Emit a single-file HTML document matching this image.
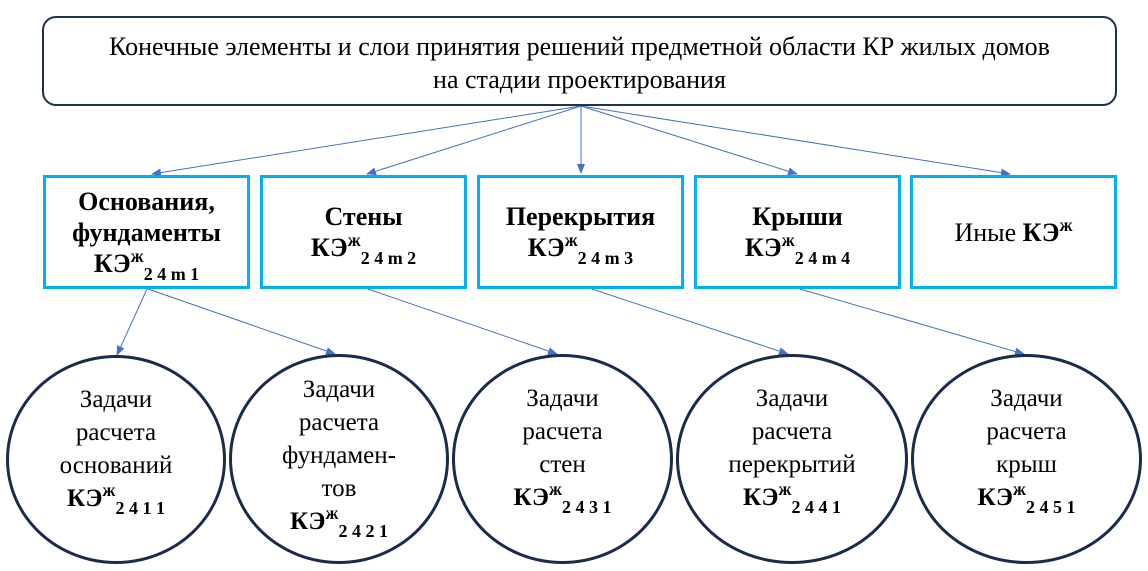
<!DOCTYPE html>
<html><head><meta charset="utf-8"><style>
body{margin:0;width:1148px;height:571px;background:#fff;overflow:hidden;position:relative;font-family:"Liberation Serif","Times New Roman","Noto Serif CJK SC","DejaVu Serif",serif;}
.top{position:absolute;left:42px;top:16px;width:1071px;height:86px;border:2.5px solid #1f3050;border-radius:14px;box-sizing:content-box;text-align:center;font-size:26px;line-height:33px;display:flex;align-items:center;justify-content:center;}
.bx{position:absolute;top:175px;width:201px;height:108px;border:3px solid #00b0f0;display:flex;align-items:center;justify-content:center;text-align:center;font-size:26px;font-weight:bold;line-height:31px;}
.c{position:absolute;border:3.5px solid #1a2b4c;border-radius:50%;box-sizing:border-box;display:flex;align-items:center;justify-content:center;text-align:center;font-size:25px;line-height:33px;}
sub{font-size:18px;vertical-align:-8px;line-height:0;font-weight:bold;}
sup{font-size:18px;vertical-align:10px;line-height:0;}
b sup{font-weight:bold}
svg{position:absolute;left:0;top:0}
</style></head><body>
<svg width="1148" height="571">
<defs><marker id="a" markerWidth="10" markerHeight="8" refX="9" refY="4" orient="auto" markerUnits="userSpaceOnUse"><path d="M0,0 L10,4 L0,8 z" fill="#4472c4"/></marker></defs>
<g stroke="#4472c4" stroke-width="1" marker-end="url(#a)">
<line x1="581" y1="106" x2="152" y2="174"/>
<line x1="581" y1="106" x2="367" y2="174"/>
<line x1="581" y1="106" x2="581" y2="173"/>
<line x1="581" y1="106" x2="797" y2="174"/>
<line x1="581" y1="106" x2="1010" y2="174"/>
<line x1="147" y1="289" x2="117" y2="355"/>
<line x1="148" y1="289" x2="335" y2="354"/>
<line x1="368" y1="289" x2="557" y2="354"/>
<line x1="592" y1="289" x2="788" y2="354"/>
<line x1="800" y1="289" x2="1024" y2="354"/>
</g></svg>
<div class="top"><div style="margin-top:4px">Конечные элементы и слои принятия решений предметной области КР жилых домов<br>на стадии проектирования</div></div>
<div class="bx" style="left:43px"><div>Основания,<br>фундаменты<br>КЭ<sup>ж</sup><sub>2 4 m 1</sub></div></div>
<div class="bx" style="left:260px"><div>Стены<br>КЭ<sup>ж</sup><sub>2 4 m 2</sub></div></div>
<div class="bx" style="left:477px"><div>Перекрытия<br>КЭ<sup>ж</sup><sub>2 4 m 3</sub></div></div>
<div class="bx" style="left:694px"><div>Крыши<br>КЭ<sup>ж</sup><sub>2 4 m 4</sub></div></div>
<div class="bx" style="left:910px"><div><span style="font-weight:normal">Иные</span> КЭ<sup>ж</sup></div></div>
<div class="c" style="left:6px;top:355px;width:220px;height:209px"><div style="margin-top:-22px">Задачи<br>расчета<br>оснований<br><b>КЭ<sup>ж</sup><sub>2 4 1 1</sub></b></div></div>
<div class="c" style="left:229px;top:354px;width:220px;height:210px"><div style="margin-top:-8px">Задачи<br>расчета<br>фундамен-<br>тов<br><b>КЭ<sup>ж</sup><sub>2 4 2 1</sub></b></div></div>
<div class="c" style="left:452px;top:354px;width:221px;height:210px"><div style="margin-top:-22px">Задачи<br>расчета<br>стен<br><b>КЭ<sup>ж</sup><sub>2 4 3 1</sub></b></div></div>
<div class="c" style="left:676px;top:354px;width:232px;height:210px"><div style="margin-top:-22px">Задачи<br>расчета<br>перекрытий<br><b>КЭ<sup>ж</sup><sub>2 4 4 1</sub></b></div></div>
<div class="c" style="left:911px;top:354px;width:231px;height:210px"><div style="margin-top:-22px">Задачи<br>расчета<br>крыш<br><b>КЭ<sup>ж</sup><sub>2 4 5 1</sub></b></div></div>
</body></html>
